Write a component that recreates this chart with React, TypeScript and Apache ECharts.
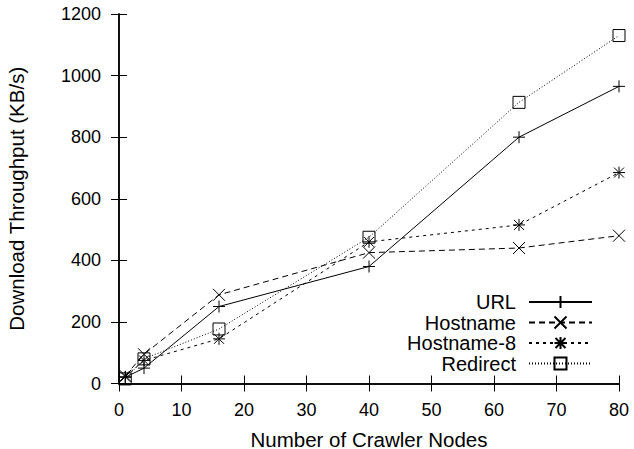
import React, { useEffect, useRef } from "react";
import * as echarts from "echarts";

const nodes = [1, 4, 16, 40, 64, 80];
const urlValues = [20, 50, 250, 380, 800, 965];
const hostnameValues = [25, 95, 288, 425, 440, 480];
const hostname8Values = [22, 75, 145, 460, 515, 685];
const redirectValues = [15, 80, 177, 475, 913, 1130];
const seriesNames = ["URL", "Hostname", "Hostname-8", "Redirect"];
const xTitle = "Number of Crawler Nodes";
const yTitle = "Download Throughput (KB/s)";

const PLUS = "path://M0,6L12,6M6,0L6,12";
const CROSS = "path://M0,0L12,12M12,0L0,12";
const STAR = "path://M0,6L12,6M6,0L6,12M1,1L11,11M11,1L1,11";
const SQUARE = "path://M0,0L12,0L12,12L0,12Z";

const LABEL_FONT = "Liberation Sans";
const NAME_FONT = "Liberation Sans";

function mk(name: string, values: number[], symbol: string, dash: any) {
  return {
    name,
    type: "line",
    data: nodes.map((n, i) => [n, values[i]]),
    symbol,
    symbolSize: 12,
    showAllSymbol: true,
    clip: false,
    lineStyle: { color: "#000", width: 1, type: dash },
    itemStyle: { color: "none", borderColor: "#000", borderWidth: 1 },
    emphasis: { disabled: true },
  };
}

export default function App() {
  const ref = useRef<HTMLDivElement>(null);
  useEffect(() => {
    if (!ref.current) return;
    const chart = echarts.init(ref.current, undefined, { renderer: "svg" });
    const axisLine = { show: true, lineStyle: { color: "#000", width: 1.5 } };
    const tick = { show: true, inside: true, length: 8, lineStyle: { color: "#000", width: 1 } };
    const plain = (v: number) => String(v);
    chart.setOption({
      animation: false,
      backgroundColor: "#fff",
      grid: { left: 119, top: 14, width: 500, height: 369.5, containLabel: false, outerBoundsMode: "none" },
      legend: {
        orient: "vertical",
        align: "right",
        right: 41,
        top: 292,
        padding: 0,
        itemWidth: 63,
        itemHeight: 15,
        itemGap: 0.5,
        data: seriesNames,
        textStyle: { fontFamily: NAME_FONT, fontSize: 20, color: "#000", lineHeight: 20, padding: [0, 8, 0, 0] },
      },
      xAxis: [
        {
          type: "value",
          min: 0,
          max: 80,
          interval: 10,
          position: "bottom",
          axisLine,
          axisTick: tick,
          splitLine: { show: false },
          axisLabel: { fontFamily: LABEL_FONT, fontSize: 18, color: "#000", margin: 17, formatter: plain },
          name: xTitle,
          nameLocation: "middle",
          nameGap: 45,
          nameTextStyle: { fontFamily: NAME_FONT, fontSize: 20.5, color: "#000" },
        },
        {
          type: "value",
          min: 0,
          max: 80,
          interval: 10,
          position: "top",
          axisLine,
          axisTick: tick,
          splitLine: { show: false },
          axisLabel: { show: false },
        },
      ],
      yAxis: [
        {
          type: "value",
          min: 0,
          max: 1200,
          interval: 200,
          position: "left",
          axisLine,
          axisTick: tick,
          splitLine: { show: false },
          axisLabel: { fontFamily: LABEL_FONT, fontSize: 18, color: "#000", margin: 18, formatter: plain },
          name: yTitle,
          nameLocation: "middle",
          nameGap: 92,
          nameTextStyle: { fontFamily: NAME_FONT, fontSize: 20.5, color: "#000" },
        },
        {
          type: "value",
          min: 0,
          max: 1200,
          interval: 200,
          position: "right",
          axisLine,
          axisTick: tick,
          splitLine: { show: false },
          axisLabel: { show: false },
        },
      ],
      series: [
        mk("URL", urlValues, PLUS, "solid"),
        mk("Hostname", hostnameValues, CROSS, [6, 4]),
        mk("Hostname-8", hostname8Values, STAR, [3, 4]),
        mk("Redirect", redirectValues, SQUARE, [1, 2]),
      ],
    });
    return () => chart.dispose();
  }, []);
  return <div ref={ref} style={{ position: "absolute", left: 0, top: 0, width: 634, height: 449 }} />;
}
